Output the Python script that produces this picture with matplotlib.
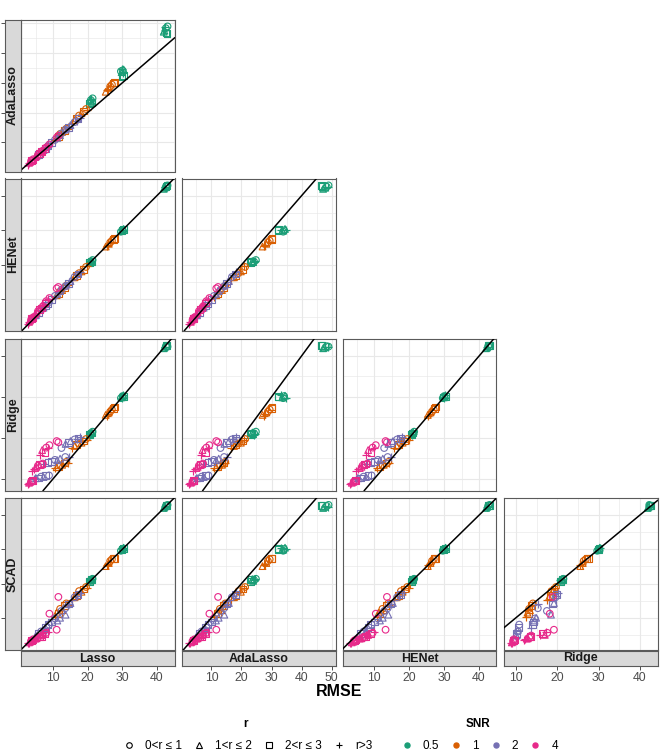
import matplotlib
matplotlib.use("Agg")
import matplotlib.pyplot as plt
from matplotlib.lines import Line2D
import numpy as np

plt.rcParams['font.family'] = ['Liberation Sans', 'DejaVu Sans']

# ---------------- data ----------------
row_methods = ["AdaLasso", "HENet", "Ridge", "SCAD"]
col_methods = ["Lasso", "AdaLasso", "HENet", "Ridge"]

snr_levels = ["0.5", "1", "2", "4"]
snr_colors = ["#1B9E77", "#D95F02", "#7570B3", "#E7298A"]
r_levels = ["0<r \u2264 1", "1<r \u2264 2", "2<r \u2264 3", "r>3"]
r_markers = ["o", "^", "s", "+"]

snr = (["0.5"] * 24) + (["1"] * 24) + (["2"] * 24) + (["4"] * 24)
r_cat = [
    0, 1, 2, 3, 0, 1, 2, 3,  0, 1, 2, 3, 0, 1, 2, 3,  0, 1, 2, 3, 0, 1, 2, 3,
    0, 1, 2, 3, 0, 1, 2, 3,  0, 1, 2, 3, 0, 1, 2, 3,  0, 1, 2, 3, 0, 1, 2, 3,
    0, 1, 2, 3, 0, 1, 2, 3,  0, 1, 2, 3, 0, 1, 2, 3,  0, 1, 2, 3, 0, 1, 2, 3,
    0, 1, 2, 3, 0, 1, 2, 3,  0, 1, 2, 3, 0, 1, 2, 3,  0, 1, 2, 3, 0, 0, 0, 3,
]

lasso = [
    20.9, 21.2, 20.6, 21.0, 21.4, 20.7, 21.1, 20.8,
    30.1, 29.8, 30.3, 30.0, 29.6, 30.4, 29.9, 30.2,
    42.6, 42.2, 42.9, 42.4, 43.1, 42.0, 42.7, 42.5,
    12.0, 11.0, 13.2, 10.6, 13.8, 12.6, 11.5, 14.2,
    17.5, 16.2, 18.8, 15.4, 19.5, 18.2, 16.8, 19.9,
    26.5, 25.2, 27.4, 25.8, 27.0, 26.1, 27.7, 25.5,
    6.5, 5.0, 7.8, 4.3, 8.8, 7.2, 5.7, 4.7,
    10.5, 12.0, 8.5, 7.3, 13.5, 11.2, 9.6, 14.6,
    16.2, 15.0, 17.2, 17.7, 12.4, 13.6, 14.4, 16.8,
    3.6, 3.0, 4.0, 2.7, 4.2, 3.3, 3.8, 2.9,
    5.6, 4.8, 6.6, 3.9, 7.0, 5.2, 6.1, 4.4,
    8.9, 6.8, 7.6, 6.2, 11.5, 8.0, 11.0, 8.6,
]
adalasso = [
    24.2, 23.6, 23.0, 24.6, 24.8, 23.9, 23.3, 24.3,
    34.2, 33.6, 32.4, 34.8, 33.9, 34.5, 32.2, 33.2,
    48.4, 47.6, 46.6, 48.9, 49.0, 47.2, 46.8, 47.9,
    12.8, 11.6, 13.9, 10.9, 14.6, 13.5, 12.0, 14.4,
    19.0, 17.5, 20.5, 16.6, 21.2, 19.8, 18.2, 21.0,
    28.8, 27.0, 29.9, 27.8, 29.4, 28.3, 30.2, 27.5,
    6.7, 5.2, 8.0, 4.4, 9.0, 7.4, 5.9, 4.8,
    10.8, 12.4, 8.8, 7.5, 14.2, 11.5, 9.9, 15.2,
    16.8, 15.8, 18.0, 18.3, 13.0, 14.3, 15.0, 17.3,
    3.7, 3.1, 4.1, 2.5, 4.3, 3.4, 3.9, 3.0,
    5.8, 5.0, 6.8, 4.0, 7.2, 5.4, 6.2, 4.5,
    9.3, 7.0, 7.9, 6.4, 12.2, 8.3, 11.6, 8.9,
]
henet = [
    20.9, 21.1, 20.7, 21.0, 21.4, 20.8, 21.0, 20.8,
    30.0, 29.9, 30.3, 30.0, 29.6, 30.4, 29.9, 30.2,
    42.6, 42.3, 42.9, 42.4, 43.0, 42.0, 42.7, 42.5,
    12.3, 11.2, 13.3, 10.7, 14.0, 12.7, 11.6, 14.2,
    17.6, 16.4, 18.7, 15.5, 19.4, 18.1, 16.9, 19.8,
    26.5, 25.3, 27.3, 25.8, 27.0, 26.1, 27.6, 25.5,
    6.9, 5.4, 8.2, 4.6, 9.2, 7.6, 6.1, 5.0,
    11.0, 12.4, 8.9, 7.7, 13.8, 11.6, 10.0, 14.9,
    16.5, 15.3, 17.4, 17.8, 12.8, 14.0, 14.7, 17.0,
    4.1, 3.5, 4.6, 3.0, 4.8, 3.9, 4.4, 3.4,
    6.6, 5.8, 7.5, 4.8, 8.0, 6.3, 7.0, 5.3,
    10.4, 8.2, 9.0, 7.5, 13.6, 9.5, 13.2, 10.0,
]
ridge = [
    21.1, 21.3, 20.8, 21.0, 21.5, 20.9, 21.2, 20.7,
    30.2, 29.9, 30.1, 29.8, 29.7, 30.3, 30.0, 30.4,
    42.4, 42.1, 42.6, 42.2, 42.3, 41.9, 42.5, 42.3,
    13.2, 12.8, 13.8, 12.5, 14.1, 13.4, 13.0, 13.9,
    18.6, 18.0, 19.2, 17.6, 19.7, 18.8, 18.3, 19.5,
    26.4, 25.6, 27.2, 25.9, 26.9, 26.2, 27.5, 25.4,
    10.5, 10.1, 10.7, 10.0, 10.8, 10.4, 10.2, 10.1,
    14.6, 14.9, 14.0, 13.7, 15.3, 14.5, 14.2, 15.4,
    19.6, 19.2, 19.9, 20.1, 17.5, 18.5, 18.8, 19.8,
    9.3, 9.0, 9.6, 8.8, 9.5, 9.2, 9.4, 9.0,
    13.2, 12.6, 13.6, 12.0, 13.7, 12.9, 13.4, 12.3,
    18.2, 17.0, 16.4, 15.8, 18.9, 17.6, 19.2, 17.4,
]
scad = [
    21.0, 21.3, 20.6, 21.2, 21.4, 20.8, 21.1, 20.9,
    30.1, 29.8, 30.2, 30.0, 29.6, 30.5, 29.9, 30.3,
    42.7, 42.4, 42.9, 42.5, 43.0, 42.1, 42.8, 42.6,
    12.6, 11.5, 13.5, 10.3, 14.2, 12.2, 11.2, 13.8,
    17.8, 16.0, 18.4, 15.2, 19.0, 17.6, 16.6, 18.8,
    26.6, 25.1, 27.3, 25.7, 27.1, 26.0, 27.4, 25.3,
    6.0, 4.8, 7.2, 4.1, 8.0, 6.3, 5.4, 4.5,
    9.8, 10.0, 8.0, 7.0, 12.8, 9.2, 8.8, 13.9,
    16.0, 14.3, 16.9, 17.2, 12.0, 10.9, 14.0, 16.4,
    3.2, 2.8, 3.5, 2.6, 3.7, 3.0, 3.3, 2.7,
    4.2, 3.9, 4.6, 3.6, 4.8, 4.0, 4.4, 3.7,
    11.2, 5.0, 5.4, 4.9, 16.1, 5.6, 6.5, 5.8,
]

vals = {"Lasso": np.array(lasso), "AdaLasso": np.array(adalasso),
        "HENet": np.array(henet), "Ridge": np.array(ridge),
        "SCAD": np.array(scad)}
snr_arr = np.array(snr)
r_arr = np.array(r_cat)


def limits(v):
    lo, hi = v.min(), v.max()
    pad = 0.05 * (hi - lo)
    return lo - pad, hi + pad


lims = {k: limits(v) for k, v in vals.items()}


def breaks(lim):
    lo, hi = lim
    major = [t for t in range(0, 70, 10) if lo <= t <= hi]
    minor = [t for t in range(5, 70, 10) if lo <= t <= hi]
    return major, minor


# ---------------- layout ----------------
W, H = 660, 755
fig = plt.figure(figsize=(W / 100, H / 100), dpi=100)


def px(x0, y0, w, h):
    return fig.add_axes([x0 / W, 1 - (y0 + h) / H, w / W, h / H])


col_x0 = [21, 182, 343, 504]
PW = 153.5
row_y0 = [19.5, 178.5, 338.5, 498]
PH = 152

BORDER = "#5A5A5A"
STRIP_FILL = "#D9D9D9"
GRID = "#E8E8E8"

for i, rm in enumerate(row_methods):
    for j in range(i + 1):
        cm = col_methods[j]
        ax = px(col_x0[j], row_y0[i], PW, PH)
        ax.set_xlim(lims[cm])
        ax.set_ylim(lims[rm])
        xm, xn = breaks(lims[cm])
        ym, yn = breaks(lims[rm])
        ax.set_xticks(xm)
        ax.set_xticks(xn, minor=True)
        ax.set_yticks(ym)
        ax.set_yticks(yn, minor=True)
        ax.grid(which="major", color=GRID, lw=0.8)
        ax.grid(which="minor", color=GRID, lw=0.45)
        ax.set_axisbelow(True)
        ax.tick_params(which="both", length=0, labelbottom=False, labelleft=False)
        for s in ax.spines.values():
            s.set_color(BORDER)
            s.set_linewidth(0.8)
        for si, sl in enumerate(snr_levels):
            for ri in range(4):
                m = (snr_arr == sl) & (r_arr == ri)
                if not m.any():
                    continue
                mk = r_markers[ri]
                if mk == "+":
                    ax.scatter(vals[cm][m], vals[rm][m], marker=mk, s=28,
                               color=snr_colors[si], linewidths=0.85, zorder=2)
                else:
                    ax.scatter(vals[cm][m], vals[rm][m], marker=mk, s=23,
                               facecolors="none", edgecolors=snr_colors[si],
                               linewidths=0.8, zorder=2)
        ax.axline((0, 0), slope=1, color="black", lw=1.1, zorder=3)

    # left strip with y ticks
    st = px(5, row_y0[i], 15.5, PH)
    st.set_facecolor(STRIP_FILL)
    st.set_ylim(lims[rm])
    st.set_yticks(breaks(lims[rm])[0])
    st.set_xticks([])
    st.tick_params(axis="y", direction="out", length=2.6, width=0.6,
                   color="#333333", labelleft=False)
    for s in st.spines.values():
        s.set_color(BORDER)
        s.set_linewidth(0.8)
    st.text(0.5, 0.5, rm, rotation=90, ha="center", va="center",
            transform=st.transAxes, fontsize=9, fontweight="bold",
            color="#1A1A1A")

# bottom strips with x ticks
for j, cm in enumerate(col_methods):
    sb = px(col_x0[j], 651, PW, 15)
    sb.set_facecolor(STRIP_FILL)
    sb.set_xlim(lims[cm])
    sb.set_xticks(breaks(lims[cm])[0])
    sb.set_yticks([])
    sb.tick_params(axis="x", direction="out", length=2.6, width=0.6,
                   color="#333333", labelsize=8.8, labelcolor="#4D4D4D", pad=1.5)
    for s in sb.spines.values():
        s.set_color(BORDER)
        s.set_linewidth(0.8)
    sb.text(0.5, 0.5, cm, ha="center", va="center", transform=sb.transAxes,
            fontsize=9, fontweight="bold", color="#1A1A1A")

fig.text(339 / W, 1 - 692 / H, "RMSE", ha="center", va="center",
         fontsize=11.5, fontweight="bold", color="black")

# ---------------- legends ----------------
FS = 8.5
fs_px = FS * 100 / 72
HL = 1.2

r_handles = []
for mk in r_markers:
    if mk == "+":
        r_handles.append(Line2D([], [], marker=mk, linestyle="None", color="black",
                                markersize=5, markeredgewidth=0.8))
    else:
        r_handles.append(Line2D([], [], marker=mk, linestyle="None",
                                markerfacecolor="none", markeredgecolor="black",
                                markersize=4, markeredgewidth=0.8))
snr_handles = [Line2D([], [], marker="o", linestyle="None", color=c,
                      markersize=3.6) for c in snr_colors]

y_items = 1 - 746 / H
leg1 = fig.legend(r_handles, r_levels, loc="center left",
                  bbox_to_anchor=((129.3 - HL * fs_px / 2) / W, y_items),
                  ncol=4, frameon=False, fontsize=FS, handlelength=HL,
                  handletextpad=0.75, columnspacing=0.85, borderpad=0,
                  borderaxespad=0)
leg2 = fig.legend(snr_handles, snr_levels, loc="center left",
                  bbox_to_anchor=((406.7 - HL * fs_px / 2) / W, y_items),
                  ncol=4, frameon=False, fontsize=FS, handlelength=HL,
                  handletextpad=0.75, columnspacing=0.85, borderpad=0,
                  borderaxespad=0)
fig.text(245 / W, 1 - 724 / H, "r", ha="center", va="center",
         fontsize=FS, fontweight="bold")
fig.text(478 / W, 1 - 724 / H, "SNR", ha="center", va="center",
         fontsize=FS, fontweight="bold")

fig.savefig("out.png", dpi=100)
